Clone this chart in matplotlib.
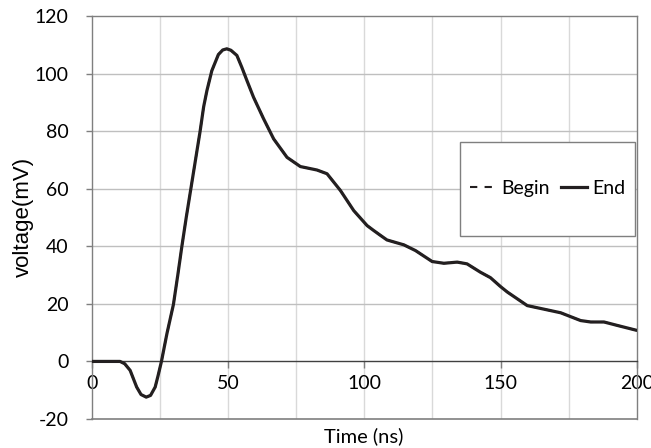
import matplotlib.pyplot as plt
from matplotlib.patches import Rectangle
from matplotlib.lines import Line2D

# values (ns, mV)
time_ns = [0, 5, 10.3, 12.0, 14.0, 15.2, 16.4, 18.0, 19.9, 21.5, 23.2, 24.3,
           25.5, 27.5, 29.9, 31.5, 33.0, 34.6, 36.3, 38.0, 39.7, 41.0, 42.2,
           44.0, 46.4, 48.0, 49.5, 51.0, 53.2, 55.0, 57.0, 59.3, 63.0, 66.7,
           71.6, 76.5, 82.6, 86.3, 91.2, 96.1, 101.0, 103.4, 105.9, 108.3,
           114.5, 118.8, 124.9, 129.2, 134.1, 137.7, 142.6, 146.3, 150.0,
           152.5, 159.8, 167.2, 172.1, 179.4, 183.1, 188.0, 192.9, 200.0]
end_mv = [0, 0, 0, -0.8, -3.1, -6.0, -8.9, -11.5, -12.4, -11.8, -8.9, -4.8,
          0, 9.6, 19.8, 30.0, 40.0, 50.0, 60.0, 70.0, 80.0, 88.5, 94.1,
          101.0, 106.6, 108.2, 108.6, 108.1, 106.3, 102.2, 97.3, 91.8, 84.3, 77.3,
          70.9, 67.7, 66.5, 65.2, 59.4, 52.4, 47.2, 45.5, 43.8, 42.2,
          40.5, 38.5, 34.7, 34.1, 34.5, 33.9, 31.0, 29.1, 26.0,
          24.1, 19.4, 17.9, 16.9, 14.2, 13.7, 13.7, 12.5, 10.8]
# the "Begin" trace sits exactly under the "End" trace
begin_mv = list(end_mv)

x_ticks = [0, 50, 100, 150, 200]
y_ticks = [-20, 0, 20, 40, 60, 80, 100, 120]
series_names = ['Begin', 'End']

plt.rcParams['font.family'] = ['Lato', 'DejaVu Sans']
plt.rcParams['axes.unicode_minus'] = False

fig = plt.figure(figsize=(6.51, 4.48), dpi=100)
ax = fig.add_axes([92 / 651, 1 - 419 / 448, (636.7 - 92) / 651, 403 / 448])

curve = '#231f20'
dash = (0, (3.5, 3.5))
ax.plot(time_ns, begin_mv, color=curve, lw=1.5, ls=dash, zorder=3)
ax.plot(time_ns, end_mv, color=curve, lw=2.3, solid_joinstyle='round',
        solid_capstyle='round', zorder=4)

ax.set_xlim(0, 200)
ax.set_ylim(-20, 120)
ax.set_xticks(x_ticks)
ax.set_yticks(y_ticks)

# grid: vertical lines every 25 ns, horizontal every 20 mV
for gx in range(25, 200, 25):
    ax.axvline(gx, color='#d9d9d9', lw=1, zorder=1)
for gy in y_ticks:
    if gy not in (-20, 0, 120):
        ax.axhline(gy, color='#bfbfbf', lw=1, zorder=1)

# frame like the spreadsheet chart; x axis crosses at y = 0
for side in ['top', 'right', 'left']:
    ax.spines[side].set_color('#7f7f7f')
    ax.spines[side].set_linewidth(1)
ax.spines['bottom'].set_position(('data', 0))
ax.spines['bottom'].set_color('#404040')
ax.spines['bottom'].set_linewidth(1)
ax.axhline(-20, color='#7f7f7f', lw=1.2, zorder=2, clip_on=False)

ax.tick_params(axis='x', direction='out', length=5, width=1, color='#7f7f7f',
               pad=5, labelsize=14, labelcolor='black')
ax.tick_params(axis='y', direction='out', length=4, width=1, color='#7f7f7f',
               pad=13, labelsize=14, labelcolor='black')

fig.text(364 / 651, 1 - 436 / 448, 'Time (ns)', ha='center', va='center',
         fontsize=14.5)
fig.text(23 / 651, 1 - 217 / 448, 'voltage(mV)', ha='center', va='center',
         rotation=90, fontsize=16, family=['Liberation Sans', 'DejaVu Sans'])

# legend box
ax.add_patch(Rectangle((0.676, 0.454), 0.321, 0.233, transform=ax.transAxes,
                       facecolor='white', edgecolor='#7f7f7f', lw=1, zorder=5))
handles = [Line2D([], [], color=curve, lw=1.5, ls=dash),
           Line2D([], [], color=curve, lw=2.3)]
leg = ax.legend(handles, series_names, ncol=2, frameon=False, loc='center',
                bbox_to_anchor=(0.837, 0.573), fontsize=14, handlelength=1.3,
                handletextpad=0.3, columnspacing=0.6)
leg.set_zorder(6)

fig.savefig('out.png', dpi=100)
